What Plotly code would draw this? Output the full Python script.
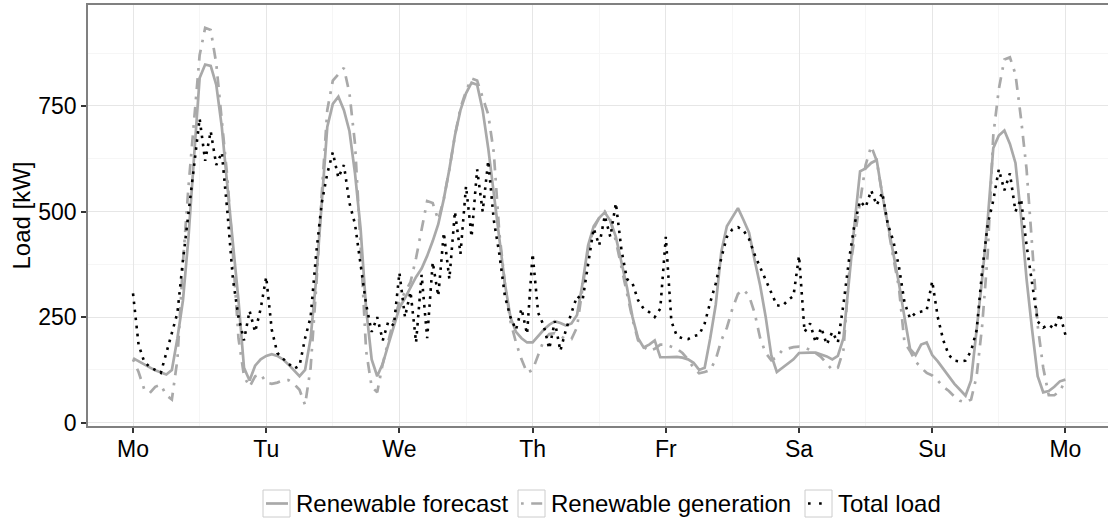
import plotly.graph_objects as go

# ---- data (hourly, one week starting Monday 00:00) ----
day_labels = ["Mo", "Tu", "We", "Th", "Fr", "Sa", "Su", "Mo"]

renewable_forecast = [
    153, 145, 138, 131, 124, 119, 114, 125, 200, 290, 440, 630, 816, 848, 845, 800, 700, 560, 420, 290, 130, 100, 135, 150,
    158, 162, 158, 150, 138, 125, 110, 125, 200, 340, 530, 700, 755, 772, 740, 690, 590, 460, 270, 150, 110, 140, 185, 230,
    272, 295, 320, 345, 365, 395, 430, 470, 530, 600, 680, 740, 780, 805, 800, 740, 650, 540, 430, 330, 250, 215, 200, 190,
    190, 205, 220, 232, 240, 236, 230, 235, 255, 330, 420, 465, 485, 498, 478, 440, 380, 320, 250, 200, 178, 185, 195, 155,
    155, 155, 156, 154, 150, 142, 125, 130, 200, 280, 405, 465, 485, 508, 480, 450, 385, 325, 250, 160, 120, 130, 140, 150,
    165, 166, 166, 166, 162, 157, 150, 158, 200, 340, 470, 595, 602, 615, 622, 540, 470, 400, 330, 250, 175, 160, 185, 190,
    160, 145, 128, 110, 92, 78, 64, 100, 220, 340, 480, 650, 680, 692, 660, 615, 490, 340, 220, 110, 72, 75, 85, 98,
    102,
]

renewable_generation = [
    150, 120, 80, 70, 85, 90, 65, 55, 150, 380, 560, 720, 870, 935, 930, 850, 720, 580, 400, 200, 110, 85, 110, 115,
    95, 92, 95, 100, 101, 92, 78, 42, 130, 320, 540, 740, 810, 825, 840, 780, 660, 420, 170, 85, 72, 140, 195, 245,
    285, 310, 333, 390, 460, 525, 520, 480, 530, 600, 680, 745, 785, 815, 810, 770, 730, 640, 450, 330, 240, 190, 150, 118,
    125, 160, 195, 210, 212, 205, 198, 198, 226, 320, 410, 460, 485, 500, 480, 430, 370, 310, 245, 195, 180, 170, 175, 185,
    185, 180, 175, 165, 150, 130, 117, 120, 125, 150, 195, 225, 270, 305, 315, 300, 260, 200, 165, 148, 155, 172, 176, 179,
    180, 178, 172, 165, 155, 140, 125, 130, 172, 350, 440, 520, 610, 655, 620, 540, 460, 390, 320, 190, 170, 145, 130, 118,
    112, 100, 85, 75, 62, 52, 48, 55, 110, 230, 400, 680, 790, 860, 865, 825, 720, 600, 420, 230, 130, 65, 65, 75,
    100,
]

total_load = [
    306, 185, 145, 132, 125, 118, 165, 215, 260, 385, 500, 610, 720, 620, 690, 610, 640, 500, 340, 250, 195, 265, 215, 270,
    345, 220, 165, 152, 140, 128, 135, 200, 250, 400, 520, 590, 640, 580, 610, 520, 470, 380, 280, 215, 250, 195, 240, 230,
    355, 250, 310, 190, 350, 200, 380, 300, 450, 340, 500, 400, 560, 440, 600, 500, 620, 480, 400, 300, 250, 220, 270, 210,
    400, 260, 230, 175, 240, 170, 220, 260, 300, 290, 380, 460, 420, 490, 440, 520, 410, 340, 330, 290, 270, 262, 250, 270,
    440, 240, 205, 200, 198, 205, 208, 235, 285, 330, 390, 440, 458, 463, 455, 435, 398, 368, 338, 310, 278, 276, 290, 300,
    395, 215, 235, 190, 225, 185, 215, 190, 280, 385, 470, 525, 510, 550, 515, 545, 470, 430, 370, 285, 247, 260, 263, 266,
    335, 250, 195, 160, 147, 145, 147, 170, 219, 360, 470, 526, 600, 550, 590, 500, 530, 420, 330, 240, 225, 232, 222, 258,
    208,
]

hours_per_day = 24
time_days = [h / hours_per_day for h in range(len(total_load))]
day_ticks = list(range(len(day_labels)))

# ---- style ----
FONT = "Liberation Sans, Arial, Helvetica, sans-serif"
GREY = "#a9a9a9"
W, H = 1108, 523
L, R, T, B = 88, 0, 5, 97
PW, PH = W - L - R, H - T - B

fig = go.Figure()
fig.add_trace(go.Scatter(x=time_days, y=renewable_forecast, mode="lines", name="Renewable forecast",
                         line=dict(color=GREY, width=2.7), showlegend=False))
fig.add_trace(go.Scatter(x=time_days, y=renewable_generation, mode="lines", name="Renewable generation",
                         line=dict(color=GREY, width=2.7, dash="2.7px,7.5px,11px,7.5px"), showlegend=False))
fig.add_trace(go.Scatter(x=time_days, y=total_load, mode="lines", name="Total load",
                         line=dict(color="black", width=2.6, dash="2.6px,5.5px"), showlegend=False))

# ---- custom ggplot-like legend (decoration, positioned in pixels) ----
def px_x(px):
    return (px - L) / PW

def px_y(py):
    return (H - B - py) / PH

legend_items = [
    ("Renewable forecast", dict(color=GREY, width=2.7, dash="solid")),
    ("Renewable generation", dict(color=GREY, width=2.7, dash="2.7px,7.5px,11px,7.5px")),
    ("Total load", dict(color="black", width=2.6, dash="2.6px,8.5px")),
]
key_left = [263, 518, 805]
key_w, key_top, key_bot = 27, 490, 517
ymid = (key_top + key_bot) / 2
shapes = []
annotations = []
for (label, lstyle), kx in zip(legend_items, key_left):
    shapes.append(dict(type="rect", xref="paper", yref="paper",
                       x0=px_x(kx), x1=px_x(kx + key_w), y0=px_y(key_bot), y1=px_y(key_top),
                       line=dict(color="#cccccc", width=1), fillcolor="white", layer="above"))
    shapes.append(dict(type="line", xref="paper", yref="paper",
                       x0=px_x(kx + 3), x1=px_x(kx + key_w - 2), y0=px_y(ymid), y1=px_y(ymid),
                       line=lstyle, layer="above"))
    annotations.append(dict(text=label, xref="paper", yref="paper", x=px_x(kx + key_w + 4), y=px_y(ymid),
                            xanchor="left", yanchor="middle", showarrow=False,
                            font=dict(family=FONT, size=24, color="black")))

fig.update_layout(
    width=W, height=H,
    margin=dict(l=L, r=R, t=T, b=B, autoexpand=False),
    paper_bgcolor="white", plot_bgcolor="white",
    font=dict(family=FONT, size=23, color="black"),
    shapes=shapes, annotations=annotations,
    showlegend=False,
)
fig.update_xaxes(
    range=[-0.338, -0.338 + PW / 133.2],
    tickmode="array", tickvals=day_ticks, ticktext=day_labels,
    showgrid=True, gridcolor="#e6e6e6", gridwidth=1.3,
    minor=dict(tickmode="linear", tick0=0, dtick=0.5, showgrid=True, gridcolor="#f6f6f6", gridwidth=1, ticklen=0),
    ticks="outside", ticklen=5, tickwidth=2, tickcolor="#333333",
    tickfont=dict(family=FONT, size=23, color="black"),
    ticklabelstandoff=-4,
    showline=True, mirror=True, linecolor="#808080", linewidth=2,
    zeroline=False,
)
fig.update_yaxes(
    range=[-7.8, 989],
    tickmode="linear", tick0=0, dtick=250,
    showgrid=True, gridcolor="#e6e6e6", gridwidth=1.3,
    minor=dict(tickmode="linear", tick0=0, dtick=125, showgrid=True, gridcolor="#f6f6f6", gridwidth=1, ticklen=0),
    ticks="outside", ticklen=5, tickwidth=2, tickcolor="#333333",
    tickfont=dict(family=FONT, size=23, color="black"),
    showline=True, mirror=False, linecolor="#808080", linewidth=1.5,
    zeroline=False,
    title=dict(text="Load [kW]", font=dict(family=FONT, size=24, color="black"), standoff=1),
)

fig.write_html("out.html")
